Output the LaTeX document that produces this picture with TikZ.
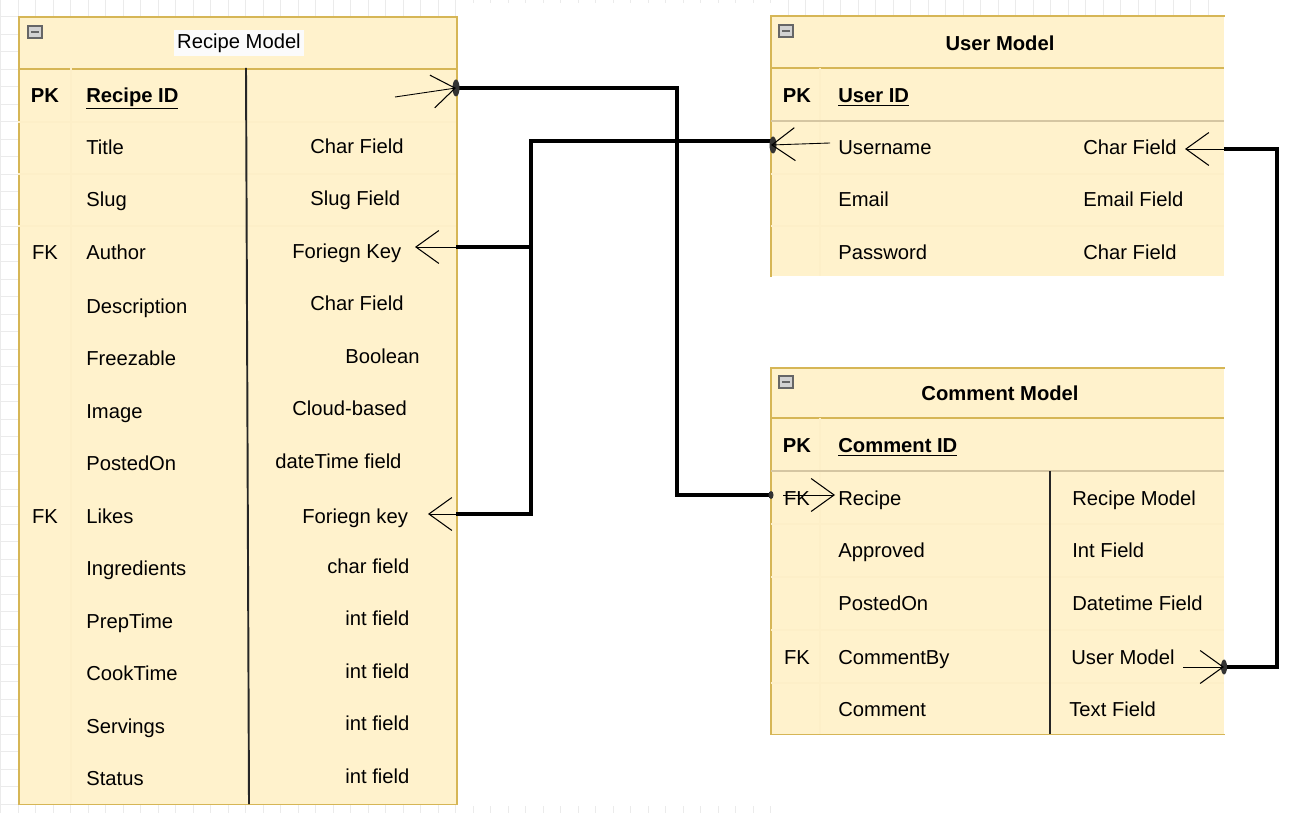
\documentclass[tikz,border=0pt]{standalone}
\usepackage{fontspec}
\setmainfont{Liberation Sans}
\usepackage{xcolor}
\usetikzlibrary{positioning,arrows.meta}

\definecolor{tblfill}{HTML}{FFF2CC}
\definecolor{tbledge}{HTML}{D6B656}
\definecolor{sepline}{HTML}{D5C6A2}
\definecolor{faintline}{HTML}{FDEFC8}
\definecolor{gridline}{HTML}{EBEBEB}
\newcommand\erfont{\fontsize{11.5}{13}\selectfont}

\begin{document}
\begin{tikzpicture}[x=0.02cm, y=-0.02cm,
  tbl/.style={fill=tblfill, anchor=north west, inner sep=0pt},
  edge/.style={draw=tbledge, line width=0.9pt},
  icon/.style={draw=gray!80!black, fill=gray!35, minimum width=0.28cm, minimum height=0.24cm,
               inner sep=0pt, line width=0.6pt,
               path picture={\draw[line width=1.3pt]
                 ([xshift=1.6pt]path picture bounding box.west) --
                 ([xshift=-1.6pt]path picture bounding box.east);}},
  title/.style={font=\erfont\bfseries, inner sep=1pt},
  fld/.style={anchor=west, inner sep=0pt, text height=8.2pt, text depth=0pt, font=\erfont},
  key/.style={inner sep=0pt, text height=8.2pt, text depth=0pt, font=\erfont},
  link/.style={line width=2.7pt, line join=miter},
  foot/.style={line width=0.5pt, -{Straight Barb[length=0.46cm, width=0.66cm, line width=0.6pt]}},
  blob/.style={fill=black!80}
]
\useasboundingbox (0,0) rectangle (1311,813);

%% Background grid, blanked where the screenshot is plain white
\foreach \g in {0.5,18,...,1311} \draw[gridline, line width=0.5pt] (\g,0) -- (\g,813);
\foreach \g in {-1,16.5,...,813} \draw[gridline, line width=0.5pt] (0,\g) -- (1311,\g);
\fill[white] (457,3) rectangle (771,806);
\fill[white] (1224,0) rectangle (1311,813);
\fill[white] (771,276) rectangle (1224,368);
\fill[white] (771,734) rectangle (1224,813);

%% Recipe Model
\node[tbl, draw=tbledge, line width=0.9pt, minimum width=8.76cm, minimum height=15.76cm] (recipe) at (18,16) {};
\node[tbl, draw=tbledge, line width=0.9pt, minimum width=8.76cm, minimum height=1.04cm] (recipeHead) at (18,16) {};
\node[icon] (recipeIcon) at (35,32) {};
\node[font=\erfont, fill=white!97!gray, inner sep=2pt] (recipeTitle) at (239,43) {Recipe Model};
\draw[faintline, line width=0.6pt] (71,68) -- (71,804)
  (18,122) -- (456,122) (18,174) -- (456,174) (18,226) -- (456,226);
\draw[black!85, line width=1.1pt] (246,68) -- (249,804);

\node[key, font=\erfont\bfseries] (rpk) at (45,95) {PK};
\node[fld, font=\erfont\bfseries] (rid) at (86,95) {\underline{Recipe ID}};
\node[fld] (rtitle) at (86,147) {Title};
\node[fld] (rslug) at (86,199) {Slug};
\node[key] (rfk1) at (45,252) {FK};
\node[fld] (rauthor) at (86,252) {Author};
\node[fld] (rdesc) at (86,306) {Description};
\node[fld] (rfreeze) at (86,358) {Freezable};
\node[fld] (rimage) at (86,411) {Image};
\node[fld] (rposted) at (86,463) {PostedOn};
\node[key] (rfk2) at (45,516) {FK};
\node[fld] (rlikes) at (86,516) {Likes};
\node[fld] (ringr) at (86,568) {Ingredients};
\node[fld] (rprep) at (86,621) {PrepTime};
\node[fld] (rcook) at (86,673) {CookTime};
\node[fld] (rserv) at (86,726) {Servings};
\node[fld] (rstatus) at (86,778) {Status};

\node[fld] (ttitle) at (310,146) {Char Field};
\node[fld] (tslug) at (310,198) {Slug Field};
\node[fld] (tauthor) at (292,251) {Foriegn Key};
\node[fld] (tdesc) at (310,303) {Char Field};
\node[fld] (tfreeze) at (345,356) {Boolean};
\node[fld] (timage) at (292,408) {Cloud-based};
\node[fld] (tposted) at (275,461) {dateTime field};
\node[fld] (tlikes) at (302,516) {Foriegn key};
\node[fld] (tingr) at (327,566) {char field};
\node[fld] (tprep) at (345,618) {int field};
\node[fld] (tcook) at (345,671) {int field};
\node[fld] (tserv) at (345,723) {int field};
\node[fld] (tstatus) at (345,776) {int field};

%% User Model
\node[tbl, minimum width=9.06cm, minimum height=5.2cm] (user) at (771,16) {};
\draw[edge] (user.south west) -- (user.north west) -- (user.north east);
\draw[edge] (771,68) -- (1224,68);
\node[icon] (userIcon) at (786,31) {};
\node[title] (userTitle) at (1000,43) {User Model};
\draw[faintline, line width=0.6pt] (820,68) -- (820,276) (771,174) -- (1224,174) (771,226) -- (1224,226);
\draw[sepline, line width=0.7pt] (771,121) -- (1224,121);

\node[key, font=\erfont\bfseries] (upk) at (797,95) {PK};
\node[fld, font=\erfont\bfseries] (uid) at (838,95) {\underline{User ID}};
\node[fld] (uname) at (838,147) {Username};
\node[fld] (uemail) at (838,199) {Email};
\node[fld] (upass) at (838,252) {Password};
\node[fld] (tuname) at (1083,147) {Char Field};
\node[fld] (tuemail) at (1083,199) {Email Field};
\node[fld] (tupass) at (1083,252) {Char Field};

%% Comment Model
\node[tbl, minimum width=9.06cm, minimum height=7.32cm] (comment) at (771,368) {};
\draw[edge] (comment.north east) -- (comment.north west) -- (comment.south west) -- (comment.south east);
\draw[edge] (771,418) -- (1224,418);
\node[icon] (commentIcon) at (786,382) {};
\node[title] (commentTitle) at (1000,393) {Comment Model};
\draw[faintline, line width=0.6pt] (820,418) -- (820,734) (771,524) -- (1224,524) (771,577) -- (1224,577)
  (771,630) -- (1224,630) (771,683) -- (1224,683);
\draw[sepline, line width=0.7pt] (771,471) -- (1224,471);
\draw[black!85, line width=1.1pt] (1050,471) -- (1050,734);

\node[key, font=\erfont\bfseries] (cpk) at (797,445) {PK};
\node[fld, font=\erfont\bfseries] (cid) at (838,445) {\underline{Comment ID}};
\node[key] (cfk1) at (797,498) {FK};
\node[fld] (crecipe) at (838,498) {Recipe};
\node[fld] (capproved) at (838,550) {Approved};
\node[fld] (cposted) at (838,603) {PostedOn};
\node[key] (cfk2) at (797,657) {FK};
\node[fld] (cby) at (838,657) {CommentBy};
\node[fld] (ctext) at (838,709) {Comment};
\node[fld] (tcrecipe) at (1072,498) {Recipe Model};
\node[fld] (tcapproved) at (1072,550) {Int Field};
\node[fld] (tcposted) at (1072,603) {Datetime Field};
\node[fld] (tcby) at (1071,657) {User Model};
\node[fld] (tctext) at (1069,709) {Text Field};

%% Connector end points on the table edges
\coordinate (rA) at (456,88);
\coordinate (cA) at (771,495);
\coordinate (uU) at (771,141);
\coordinate (bend) at (531,141);
\coordinate (rL) at (456,514);
\coordinate (rF) at (456,247);
\coordinate (uC) at (1224,149);
\coordinate (cU) at (1224,667);

%% Relations
\draw[link] (rA) -- ++(221,0) |- (cA);
\draw[link] (uU) -- (bend) |- (rL);
\draw[link] (rF) -- (rF -| bend);
\draw[link] (uC) -- ++(53,0) |- (cU);

%% Hand-drawn ends
\fill[blob] (rA) ellipse [x radius=0.07cm, y radius=0.17cm];
\fill[blob] ([shift={(2,4)}]uU) ellipse [x radius=0.07cm, y radius=0.17cm];
\fill[blob] (cU) ellipse [x radius=0.06cm, y radius=0.15cm];
\fill[blob] (cA) ellipse [x radius=0.05cm, y radius=0.08cm];
\draw[foot] ([shift={(-61,9)}]rA) -- (rA);
\draw[foot] (rF) -- ++(-41,0);
\draw[foot] (rL) -- ++(-28,0);
\draw[foot] ([shift={(59,2)}]uU) -- ([shift={(0,4)}]uU);
\draw[foot] (uC) -- ++(-39,0);
\draw[foot] ([shift={(12,0)}]cA) -- ++(52,0);
\draw[foot] ([shift={(-41,0)}]cU) -- (cU);
\end{tikzpicture}
\end{document}
